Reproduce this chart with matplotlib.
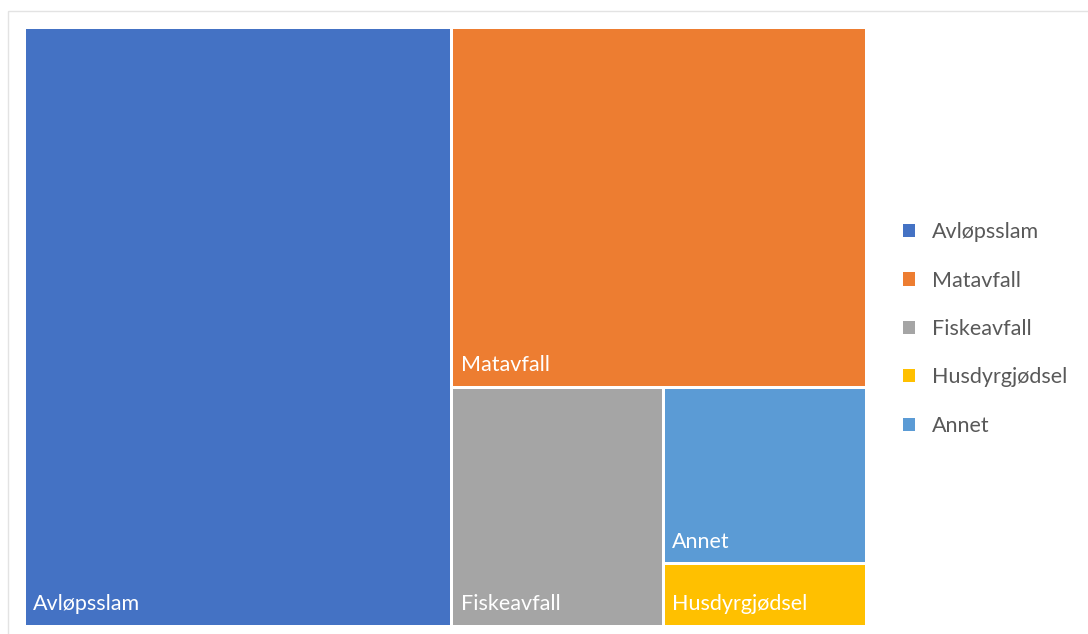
import matplotlib
matplotlib.use("Agg")
from matplotlib import pyplot as plt
from matplotlib.patches import Rectangle, Patch

plt.rcParams["font.family"] = ["Lato", "DejaVu Sans"]

# data (share in %), legend order
categories = ["Avløpsslam", "Matavfall", "Fiskeavfall", "Husdyrgjødsel", "Annet"]
values = [50.8, 29.6, 10.0, 2.5, 7.1]
colors = ["#4472C4", "#ED7D31", "#A5A5A5", "#FFC000", "#5B9BD5"]


def worst(row, side):
    s = sum(row)
    return max(max(side * side * r / (s * s), s * s / (side * side * r)) for r in row)


def squarify(areas, x, y, w, h):
    # simple squarified treemap, areas already scaled to w*h
    rects = []
    areas = list(areas)
    while areas:
        side = min(w, h)
        row = [areas[0]]
        i = 1
        while i < len(areas) and worst(row + [areas[i]], side) <= worst(row, side):
            row.append(areas[i])
            i += 1
        areas = areas[i:]
        s = sum(row)
        if w >= h:
            rw = s / h
            yy = y
            for a in row:
                rects.append((x, yy, rw, a / rw))
                yy += a / rw
            x += rw
            w -= rw
        else:
            rh = s / w
            xx = x
            for a in row:
                rects.append((xx, y, a / rh, rh))
                xx += a / rh
            y += rh
            h -= rh
    return rects


fig = plt.figure(figsize=(10.88, 6.34), dpi=100)
ax = fig.add_axes([0, 0, 1, 1])
ax.set_xlim(0, 1088)
ax.set_ylim(634, 0)
ax.axis("off")

# chart frame
ax.add_patch(Rectangle((8, 11), 1100, 640, fill=False, edgecolor="#E3E3E3", linewidth=1))

X0, Y0, W, H = 24, 27, 842, 599
order = sorted(range(len(values)), key=lambda k: -values[k])
total = sum(values)
areas = [values[k] / total * W * H for k in order]
rects = squarify(areas, X0, Y0, W, H)

gap = 1.5
for k, (rx, ry, rw, rh) in zip(order, rects):
    ax.add_patch(Rectangle((rx + gap, ry + gap), rw - 2 * gap, rh - 2 * gap,
                           facecolor=colors[k], edgecolor="none"))
    ax.text(rx + 9, ry + rh - 22, categories[k], color="white", fontsize=15.5,
            va="center", ha="left")

handles = [Patch(facecolor=c, edgecolor="none") for c in colors]
ax.legend(handles, categories, loc="center left", bbox_to_anchor=(0.830, 0.481),
          frameon=False, fontsize=15.5, labelcolor="#595959", handlelength=0.56,
          handleheight=0.56, handletextpad=0.8, labelspacing=1.32,
          borderpad=0, borderaxespad=0)

plt.savefig("out.png", dpi=100)
